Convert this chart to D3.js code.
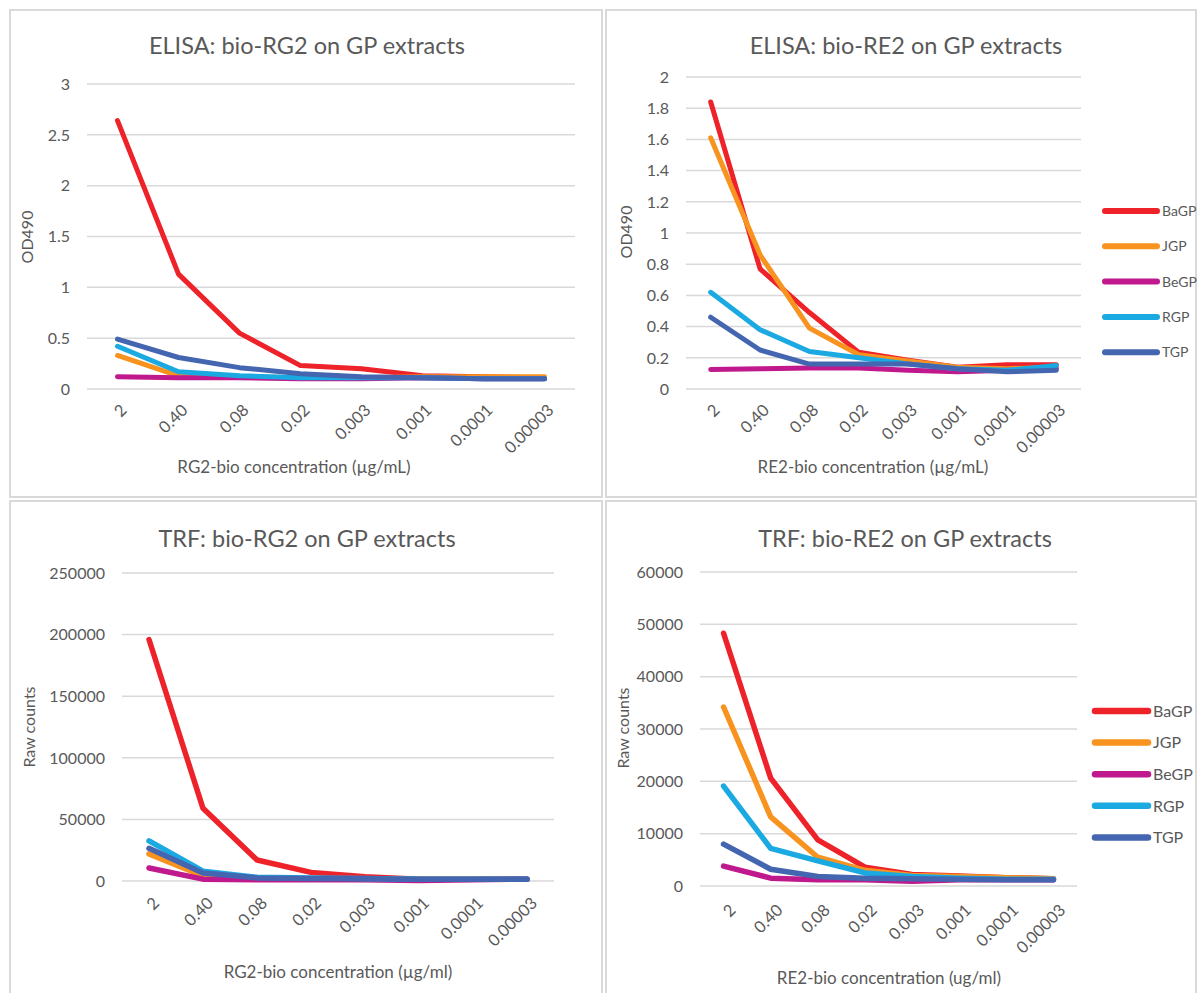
<!DOCTYPE html>
<html>
<head>
<meta charset="utf-8">
<script src="https://cdn.jsdelivr.net/npm/d3@7"></script>
<style>
  body { margin: 0; background: #fff; }
  svg { display: block; font-family: Lato, "Open Sans", sans-serif; }
</style>
</head>
<body>
<svg id="chart" width="1198" height="993"></svg>
<script>
// dilution steps (x categories), same for all four charts
const categories = ["2", "0.40", "0.08", "0.02", "0.003", "0.001", "0.0001", "0.00003"];
const seriesNames = ["BaGP", "JGP", "BeGP", "RGP", "TGP"];
const seriesColors = ["#EE2229", "#F7931E", "#C0188D", "#1BA9E1", "#4466B0"];

// ELISA bio-RG2 (OD490), rows in seriesNames order
const elisaRG2 = [
    [2.64, 1.13, 0.55, 0.23, 0.20, 0.13, 0.12, 0.11],
    [0.33, 0.13, 0.12, 0.11, 0.11, 0.12, 0.12, 0.12],
    [0.12, 0.11, 0.11, 0.10, 0.10, 0.11, 0.10, 0.10],
    [0.42, 0.17, 0.13, 0.11, 0.11, 0.11, 0.10, 0.10],
    [0.49, 0.31, 0.21, 0.15, 0.12, 0.11, 0.10, 0.10]
];
const elisaRG2Ticks = [0, 0.5, 1, 1.5, 2, 2.5, 3];

// ELISA bio-RE2 (OD490)
const elisaRE2 = [
    [1.84, 0.77, 0.49, 0.235, 0.185, 0.14, 0.155, 0.155],
    [1.61, 0.86, 0.39, 0.22, 0.18, 0.14, 0.13, 0.14],
    [0.125, 0.13, 0.135, 0.135, 0.12, 0.11, 0.12, 0.13],
    [0.62, 0.38, 0.24, 0.20, 0.16, 0.13, 0.12, 0.15],
    [0.46, 0.25, 0.16, 0.16, 0.16, 0.13, 0.11, 0.12]
];
const elisaRE2Ticks = [0, 0.2, 0.4, 0.6, 0.8, 1, 1.2, 1.4, 1.6, 1.8, 2];

// TRF bio-RG2 (raw counts)
const trfRG2 = [
    [196000, 59000, 17000, 7000, 3500, 1500, 1500, 1500],
    [22000, 4000, 2000, 1500, 1500, 1500, 1500, 1500],
    [10500, 1500, 1000, 1000, 1000, 500, 1000, 1500],
    [32500, 8000, 3000, 2500, 2000, 1500, 1500, 1500],
    [26500, 6500, 2500, 2000, 1800, 1500, 1500, 1500]
];
const trfRG2Ticks = [0, 50000, 100000, 150000, 200000, 250000];

// TRF bio-RE2 (raw counts)
const trfRE2 = [
    [48300, 20600, 8800, 3600, 2200, 1900, 1600, 1400],
    [34200, 13200, 5500, 3000, 2000, 1800, 1600, 1400],
    [3800, 1500, 1200, 1200, 900, 1200, 1200, 1200],
    [19100, 7200, 4800, 2500, 1800, 1500, 1300, 1300],
    [8000, 3200, 1800, 1500, 1400, 1300, 1200, 1200]
];
const trfRE2Ticks = [0, 10000, 20000, 30000, 40000, 50000, 60000];

const svg = d3.select('#chart');
const textColor = '#595959';
const gridColor = '#d9d9d9';

// panel frames
const frames = [
    {x: 10, y: 10, w: 592, h: 487},
    {x: 606, y: 10, w: 590, h: 487},
    {x: 10, y: 501, w: 592, h: 500},
    {x: 606, y: 501, w: 590, h: 500}
];
frames.forEach(f => {
    svg.append('rect')
        .attr('x', f.x).attr('y', f.y)
        .attr('width', f.w).attr('height', f.h)
        .attr('fill', 'none')
        .attr('stroke', gridColor)
        .attr('stroke-width', 2);
});

const drawPanel = (cfg) => {
    const x = d3.scaleBand()
        .domain(categories)
        .range([cfg.x0, cfg.x1]);

    const y = d3.scaleLinear()
        .domain([0, cfg.ticks[cfg.ticks.length - 1]])
        .range([cfg.yBot, cfg.yTop]);

    const g = svg.append('g');

    // gridlines
    g.selectAll('.grid')
        .data(cfg.ticks)
        .enter()
        .append('line')
        .attr('x1', cfg.x0).attr('x2', cfg.x1)
        .attr('y1', d => y(d)).attr('y2', d => y(d))
        .attr('stroke', gridColor)
        .attr('stroke-width', 1.5);

    // y tick labels
    g.selectAll('.ytick')
        .data(cfg.ticks)
        .enter()
        .append('text')
        .attr('x', cfg.x0 - 17)
        .attr('y', d => y(d))
        .attr('dy', '0.36em')
        .attr('text-anchor', 'end')
        .attr('font-size', 16)
        .attr('fill', textColor)
        .text(d => d);

    // x tick labels, rotated
    g.selectAll('.xtick')
        .data(categories)
        .enter()
        .append('text')
        .attr('transform', d => `translate(${x(d) + x.bandwidth() / 2 + 2 + cfg.tickShift}, ${cfg.yBot + 14 + cfg.tickShift}) rotate(-45)`)
        .attr('text-anchor', 'end')
        .attr('dy', '0.7em')
        .attr('font-size', 16.5)
        .attr('fill', textColor)
        .text(d => d);

    const line = d3.line()
        .x((d, i) => x(categories[i]) + x.bandwidth() / 2)
        .y(d => y(d));

    g.selectAll('.series')
        .data(cfg.data)
        .enter()
        .append('path')
        .attr('d', d => line(d))
        .attr('fill', 'none')
        .attr('stroke', (d, i) => seriesColors[i])
        .attr('stroke-width', cfg.lineWidth)
        .attr('stroke-linejoin', 'round')
        .attr('stroke-linecap', 'round');

    // title
    g.append('text')
        .attr('x', cfg.titleX).attr('y', cfg.titleY)
        .attr('text-anchor', 'middle')
        .attr('font-size', 23.5)
        .attr('fill', textColor)
        .text(cfg.title);

    // axis titles
    g.append('text')
        .attr('x', cfg.xTitleX).attr('y', cfg.xTitleY)
        .attr('text-anchor', 'middle')
        .attr('font-size', 17)
        .attr('fill', textColor)
        .text(cfg.xTitle);

    g.append('text')
        .attr('transform', `translate(${cfg.yTitleX}, ${cfg.yTitleY}) rotate(-90)`)
        .attr('text-anchor', 'middle')
        .attr('dy', '0.36em')
        .attr('font-size', 16)
        .attr('fill', textColor)
        .text(cfg.yTitle);

    if (cfg.legend) {
        const lg = g.selectAll('.legend')
            .data(seriesNames)
            .enter()
            .append('g')
            .attr('transform', (d, i) => `translate(${cfg.legend.x}, ${cfg.legend.y + i * cfg.legend.step})`);
        lg.append('line')
            .attr('x1', 2).attr('x2', cfg.legend.len - 2)
            .attr('stroke', (d, i) => seriesColors[i])
            .attr('stroke-width', cfg.lineWidth + 1)
            .attr('stroke-linecap', 'round');
        lg.append('text')
            .attr('x', cfg.legend.len + 3)
            .attr('dy', '0.36em')
            .attr('font-size', cfg.legend.fontSize)
            .attr('fill', textColor)
            .text(d => d);
    }
};

drawPanel({
    data: elisaRG2, ticks: elisaRG2Ticks, lineWidth: 5, tickShift: 0,
    x0: 87, x1: 575, yTop: 84, yBot: 389,
    title: 'ELISA: bio-RG2 on GP extracts', titleX: 307, titleY: 54,
    xTitle: 'RG2-bio concentration (µg/mL)', xTitleX: 294, xTitleY: 473,
    yTitle: 'OD490', yTitleX: 27, yTitleY: 237
});

drawPanel({
    data: elisaRE2, ticks: elisaRE2Ticks, lineWidth: 5, tickShift: 0,
    x0: 686, x1: 1081, yTop: 77, yBot: 389,
    title: 'ELISA: bio-RE2 on GP extracts', titleX: 906, titleY: 54,
    xTitle: 'RE2-bio concentration (µg/mL)', xTitleX: 873, xTitleY: 473,
    yTitle: 'OD490', yTitleX: 626, yTitleY: 232,
    legend: {x: 1103, y: 211, step: 35.3, len: 56, fontSize: 14}
});

drawPanel({
    data: trfRG2, ticks: trfRG2Ticks, lineWidth: 5.5, tickShift: 1,
    x0: 122, x1: 554, yTop: 573, yBot: 881,
    title: 'TRF: bio-RG2 on GP extracts', titleX: 307, titleY: 547,
    xTitle: 'RG2-bio concentration (µg/ml)', xTitleX: 338, xTitleY: 978,
    yTitle: 'Raw counts', yTitleX: 29, yTitleY: 727
});

drawPanel({
    data: trfRE2, ticks: trfRE2Ticks, lineWidth: 5.5, tickShift: 3,
    x0: 700, x1: 1077, yTop: 572, yBot: 886,
    title: 'TRF: bio-RE2 on GP extracts', titleX: 905, titleY: 547,
    xTitle: 'RE2-bio concentration (ug/ml)', xTitleX: 889, xTitleY: 984,
    yTitle: 'Raw counts', yTitleX: 623, yTitleY: 728,
    legend: {x: 1093, y: 711, step: 31.6, len: 57, fontSize: 16}
});
</script>
</body>
</html>
